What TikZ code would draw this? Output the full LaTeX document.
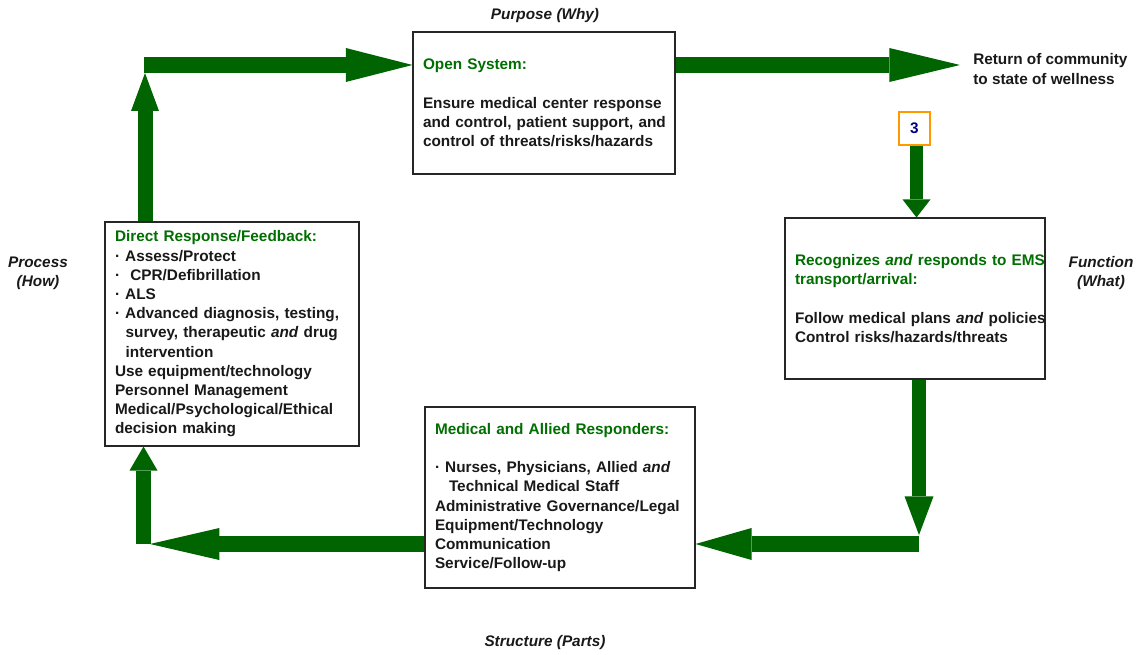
\documentclass[tikz,border=0pt]{standalone}
\usepackage{fontspec}
\setmainfont{Liberation Sans}
\usepackage{tikz}
\usetikzlibrary{positioning, arrows.meta, calc}
\usepackage{xcolor}

\definecolor{headgreen}{RGB}{0,110,0}
\definecolor{flowgreen}{RGB}{0,100,0}
\definecolor{tagorange}{RGB}{255,153,0}
\definecolor{tagnavy}{RGB}{0,0,128}
\newcommand{\dotitem}{\textperiodcentered\ }

\begin{document}
\begin{tikzpicture}[
    x=0.75pt, y=-0.75pt,
    font=\fontsize{11.5}{14.4}\selectfont\bfseries,
    sysbox/.style={rectangle, draw=black!85, line width=0.8pt, align=left, inner xsep=7.5pt, inner ysep=0pt, text=black!90},
    axislabel/.style={align=center, text=black!90, font=\fontsize{11.5}{14.4}\selectfont\bfseries\itshape},
    flow/.style n args={3}{draw=flowgreen, line width=#1, -{Triangle[width=#2, length=#3, line width=0pt]}}
]
    \useasboundingbox (0,0) rectangle (1138,655);

    % The four boxes of the cycle
    \node[sysbox, minimum width=196.5pt, minimum height=106.5pt, text width=181.5pt] (open) at (544,103)
        {\textcolor{headgreen}{Open System:}\\[14.4pt]
         Ensure medical center response\\
         \mbox{and control, patient support, and}\\
         control of threats/risks/hazards};
    \node[sysbox, minimum width=195pt, minimum height=120.75pt, text width=180pt] (fn) at (915,298.5)
        {{\color{headgreen}\mbox{Recognizes \textit{and} responds to EMS}\\transport/arrival:}\\[14.4pt]
         \mbox{Follow medical plans \textit{and} policies}\\
         Control risks/hazards/threats};
    \node[sysbox, minimum width=202.5pt, minimum height=135.75pt, text width=187.5pt] (str) at (560,497.5)
        {\textcolor{headgreen}{Medical and Allied Responders:}\\[14.4pt]
         \dotitem Nurses, Physicians, Allied \textit{and}\\
         \hspace*{10.5pt}Technical Medical Staff\\
         \mbox{Administrative Governance/Legal}\\
         Equipment/Technology\\
         Communication\\
         Service/Follow-up};
    \node[sysbox, minimum width=190.5pt, minimum height=168pt, text width=175.5pt] (dr) at (232,334)
        {\textcolor{headgreen}{Direct Response/Feedback:}\\
         \dotitem Assess/Protect\\
         \dotitem\ CPR/Defibrillation\\
         \dotitem ALS\\
         \mbox{\dotitem Advanced diagnosis, testing,}\\
         \hspace*{8pt}survey, therapeutic \textit{and} drug\\
         \hspace*{8pt}intervention\\
         Use equipment/technology\\
         Personnel Management\\
         \mbox{Medical/Psychological/Ethical}\\
         decision making};

    % Step tag and outcome
    \node[draw=tagorange, line width=1.5pt, text=tagnavy, minimum width=23.25pt, minimum height=24.75pt, inner sep=0pt] (tag) at (914.5,128.5) {3};
    \coordinate (goal) at (960,65);
    \node[right=9.75pt of goal, yshift=-3pt, align=left, inner sep=0pt, text=black!90] (ret) {Return of community\\to state of wellness};

    % Axis labels
    \node[axislabel] (why) at (545,16) {Purpose (Why)};
    \node[axislabel] (what) at (1101,273) {Function\\(What)};
    \node[axislabel] (parts) at (545,643) {Structure (Parts)};
    \node[axislabel] (how) at (38,273) {Process\\(How)};

    % Corners of the loop
    \coordinate (turnT) at (145,65);
    \coordinate (turnR) at (919,544);
    \coordinate (turnL) at (143.5,544);

    % Arrows
    \draw[flow={11.25pt}{21pt}{28.5pt}] (dr.north -| turnT) -- ($(turnT)+(0,8)$);
    \draw[flow={12pt}{25.5pt}{50pt}] ($(turnT)+(-1,0)$) -- (open.west |- turnT);
    \draw[flow={12pt}{25.5pt}{53pt}] (open.east |- goal) -- (goal);
    \draw[flow={9.75pt}{21pt}{13.5pt}] ($(tag.south)+(2,0)$) -- ($(tag.south |- fn.north)+(2,0)$);
    \draw[flow={10.5pt}{21.75pt}{29pt}] (fn.south -| turnR) -- ($(turnR)+(0,-9)$);
    \draw[flow={12pt}{24pt}{42pt}] (turnR) -- (str.east |- turnR);
    \draw[flow={12pt}{24pt}{52pt}] (str.west |- turnL) -- ($(turnL)+(6.5,0)$);
    \draw[flow={11.25pt}{21pt}{18pt}] (turnL) -- (dr.south -| turnL);
\end{tikzpicture}
\end{document}
